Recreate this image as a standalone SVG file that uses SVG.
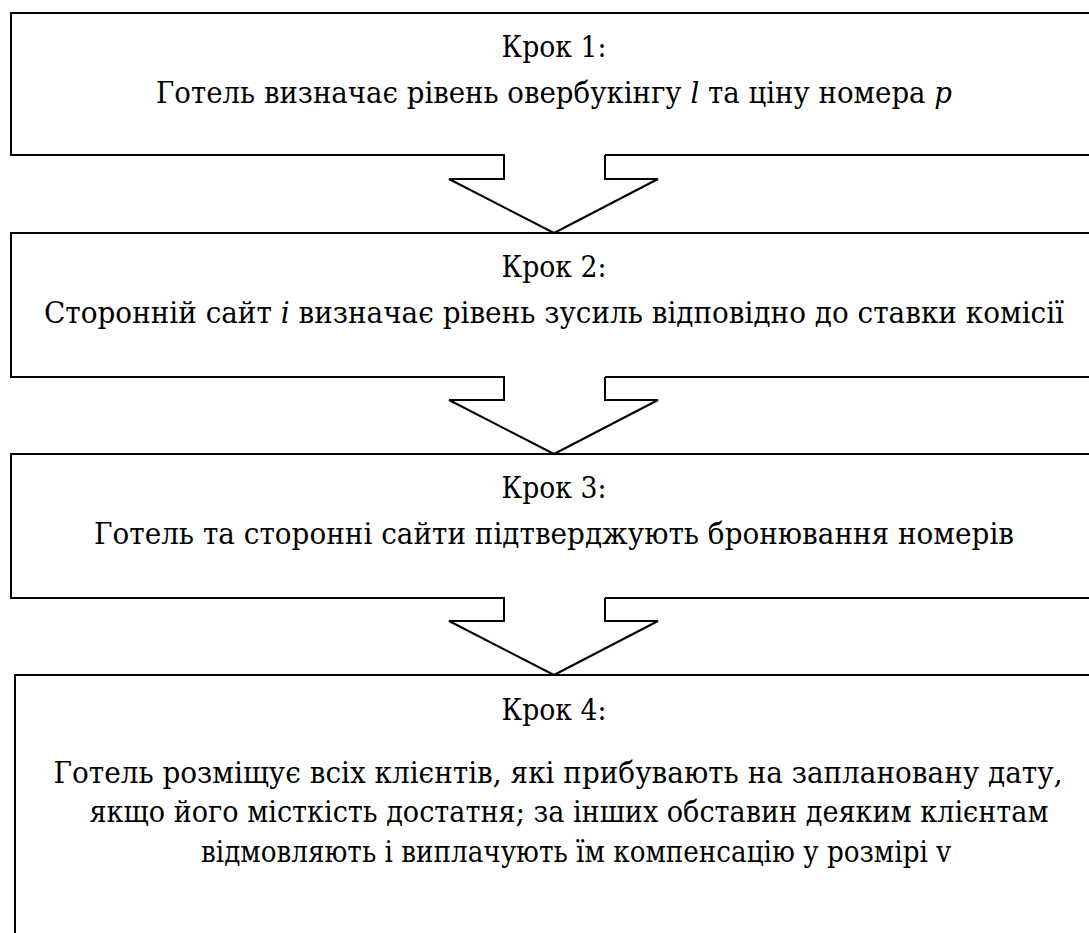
<svg xmlns="http://www.w3.org/2000/svg" width="1089" height="933" viewBox="0 0 1089 933">
<style>
.box{fill:#fff;stroke:#000;stroke-width:2}
.t{font-family:"DejaVu Serif","Liberation Serif",serif;font-size:30px;fill:#000;text-anchor:middle}
.i{font-style:italic}
.af{fill:#fff;stroke:none}
.ao{fill:none;stroke:#000;stroke-width:2;stroke-linejoin:miter}
</style>
<rect width="1089" height="933" fill="#fff"/>
<g id="step1">
<rect class="box" x="11" y="13" width="1090" height="142"/>
<text class="t" x="554" y="57" textLength="105" lengthAdjust="spacingAndGlyphs">Крок 1:</text>
<text class="t" x="554" y="103" textLength="796" lengthAdjust="spacingAndGlyphs">Готель визначає рівень овербукінгу <tspan class="i">l</tspan> та ціну номера <tspan class="i">p</tspan></text>
</g>
<g id="step2">
<rect class="box" x="11" y="233" width="1090" height="144"/>
<text class="t" x="554" y="277" textLength="105" lengthAdjust="spacingAndGlyphs">Крок 2:</text>
<text class="t" x="554" y="323" textLength="1020" lengthAdjust="spacingAndGlyphs">Сторонній сайт <tspan class="i">i</tspan> визначає рівень зусиль відповідно до ставки комісії</text>
</g>
<g id="step3">
<rect class="box" x="11" y="454" width="1090" height="144"/>
<text class="t" x="554" y="498" textLength="105" lengthAdjust="spacingAndGlyphs">Крок 3:</text>
<text class="t" x="554" y="544" textLength="920" lengthAdjust="spacingAndGlyphs">Готель та сторонні сайти підтверджують бронювання номерів</text>
</g>
<g id="step4">
<rect class="box" x="15" y="675" width="1090" height="280"/>
<text class="t" x="554" y="720" textLength="105" lengthAdjust="spacingAndGlyphs">Крок 4:</text>
<text class="t" x="558" y="783" textLength="1009" lengthAdjust="spacingAndGlyphs">Готель розміщує всіх клієнтів, які прибувають на заплановану дату,</text>
<text class="t" x="569" y="822" textLength="959" lengthAdjust="spacingAndGlyphs">якщо його місткість достатня; за інших обставин деяким клієнтам</text>
<text class="t" x="576" y="862" textLength="750" lengthAdjust="spacingAndGlyphs">відмовляють і виплачують їм компенсацію у розмірі v</text>
</g>
<g id="connectors">
<polygon class="af" points="505,154 605,154 605,179 658,179 554,233 449,179 504,179"/>
<polyline class="ao" points="504,155 504,179 449,179 554,233 658,179 605,179 605,155"/>
<polygon class="af" points="505,376 605,376 605,400 658,400 554,454 449,400 504,400"/>
<polyline class="ao" points="504,377 504,400 449,400 554,454 658,400 605,400 605,377"/>
<polygon class="af" points="505,597 605,597 605,621 658,621 554,675 449,621 504,621"/>
<polyline class="ao" points="504,598 504,621 449,621 554,675 658,621 605,621 605,598"/>
</g>
</svg>
